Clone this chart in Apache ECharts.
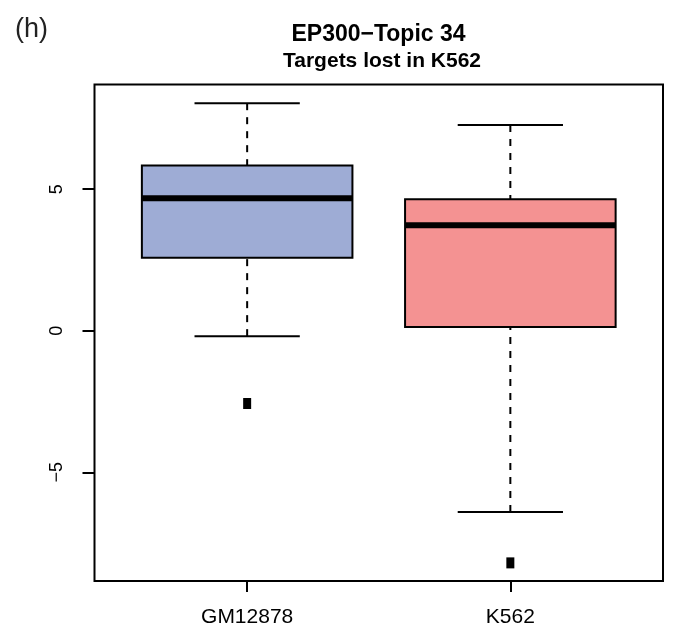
<!DOCTYPE html>
<html>
<head>
<meta charset="utf-8">
<script src="https://cdn.jsdelivr.net/npm/echarts@6/dist/echarts.min.js"></script>
<style>
  html, body { margin: 0; padding: 0; background: #fff; }
  #chart { width: 673px; height: 632px; }
</style>
</head>
<body>
<div id="chart"></div>
<script>
// values
var categories = ['GM12878', 'K562'];
var lowerWhisker = [-0.19, -6.40];
var q1 = [2.58, 0.13];
var median = [4.68, 3.73];
var q3 = [5.84, 4.65];
var upperWhisker = [8.04, 7.27];
var outlierValues = [-2.57, -8.20];
var yTicks = [-5, 0, 5];

var boxColors = ['#9EACD5', '#F49292'];
var sFont = 'Liberation Sans';

var aBoxData = [];
var aOutliers = [];
categories.forEach(function (name, i) {
    aBoxData.push([i + 1, lowerWhisker[i], q1[i], median[i], q3[i], upperWhisker[i]]);
    aOutliers.push([i + 1, outlierValues[i]]);
});

function renderBox(params, api) {
    var x = api.value(0);
    var halfBox = api.size([0.8, 0])[0] / 2;
    var halfCap = api.size([0.4, 0])[0] / 2;
    var pLow = api.coord([x, api.value(1)]);
    var pQ1 = api.coord([x, api.value(2)]);
    var pMed = api.coord([x, api.value(3)]);
    var pQ3 = api.coord([x, api.value(4)]);
    var pHigh = api.coord([x, api.value(5)]);
    var cx = pLow[0];
    var dashed = {stroke: '#000', lineWidth: 2, lineDash: [7, 7]};
    var solid = {stroke: '#000', lineWidth: 2};
    // whiskers start at their ends, like R's segments()
    return {
        type: 'group',
        children: [
            {type: 'line', shape: {x1: cx, y1: pHigh[1], x2: cx, y2: pQ3[1]}, style: dashed},
            {type: 'line', shape: {x1: cx, y1: pLow[1], x2: cx, y2: pQ1[1]}, style: dashed},
            {type: 'line', shape: {x1: cx - halfCap, y1: pHigh[1], x2: cx + halfCap, y2: pHigh[1]}, style: solid},
            {type: 'line', shape: {x1: cx - halfCap, y1: pLow[1], x2: cx + halfCap, y2: pLow[1]}, style: solid},
            {
                type: 'rect',
                shape: {x: cx - halfBox, y: pQ3[1], width: halfBox * 2, height: pQ1[1] - pQ3[1]},
                style: {fill: boxColors[params.dataIndex], stroke: '#000', lineWidth: 2}
            },
            {type: 'line', shape: {x1: cx - halfBox, y1: pMed[1], x2: cx + halfBox, y2: pMed[1]}, style: {stroke: '#000', lineWidth: 6}}
        ]
    };
}

var oChart = echarts.init(document.getElementById('chart'), null, {renderer: 'canvas'});
var oChartOpt = {
    animation: false,
    backgroundColor: '#fff',
    title: [
        {
            text: 'EP300\u2212Topic 34',
            left: 378.5, top: 23, padding: 0, textAlign: 'center',
            textStyle: {fontFamily: sFont, fontWeight: 'bold', fontSize: 23, lineHeight: 23, color: '#000'}
        },
        {
            text: 'Targets lost in K562',
            left: 382, top: 51, padding: 0, textAlign: 'center',
            textStyle: {fontFamily: sFont, fontWeight: 'bold', fontSize: 21, lineHeight: 21, color: '#000'}
        },
        {
            text: '(h)',
            left: 15, top: 16, padding: 0,
            textStyle: {fontFamily: sFont, fontWeight: 'normal', fontSize: 27, lineHeight: 27, color: '#222'}
        }
    ],
    grid: {
        left: 94.5, right: 10, top: 84.5, bottom: 51,
        show: true, borderColor: '#000', borderWidth: 2, backgroundColor: 'transparent'
    },
    xAxis: {
        type: 'value',
        min: 0.42, max: 2.58,
        splitLine: {show: false},
        axisLine: {show: false, onZero: false},
        axisTick: {show: true, length: 11, lineStyle: {color: '#000', width: 2}, customValues: [1, 2]},
        axisLabel: {
            customValues: [1, 2],
            margin: 26,
            fontFamily: sFont, fontSize: 21, color: '#000',
            formatter: function (v) { return categories[Math.round(v) - 1]; }
        }
    },
    yAxis: {
        type: 'value',
        min: -8.84, max: 8.70,
        splitLine: {show: false},
        axisLine: {show: false, onZero: false},
        axisTick: {show: true, length: 12, lineStyle: {color: '#000', width: 2}, customValues: yTicks},
        axisLabel: {
            customValues: yTicks,
            rotate: 90,
            margin: 28,
            fontFamily: sFont, fontSize: 18, color: '#000',
            formatter: function (v) { return String(v).replace('-', '\u2212'); }
        }
    },
    series: [
        {
            type: 'custom',
            renderItem: renderBox,
            data: aBoxData,
            encode: {x: 0, y: [1, 2, 3, 4, 5]}
        },
        {
            type: 'scatter',
            symbol: 'rect',
            symbolSize: [8, 11],
            itemStyle: {color: '#000', opacity: 1},
            data: aOutliers
        }
    ]
};
oChart.setOption(oChartOpt);
</script>
</body>
</html>
